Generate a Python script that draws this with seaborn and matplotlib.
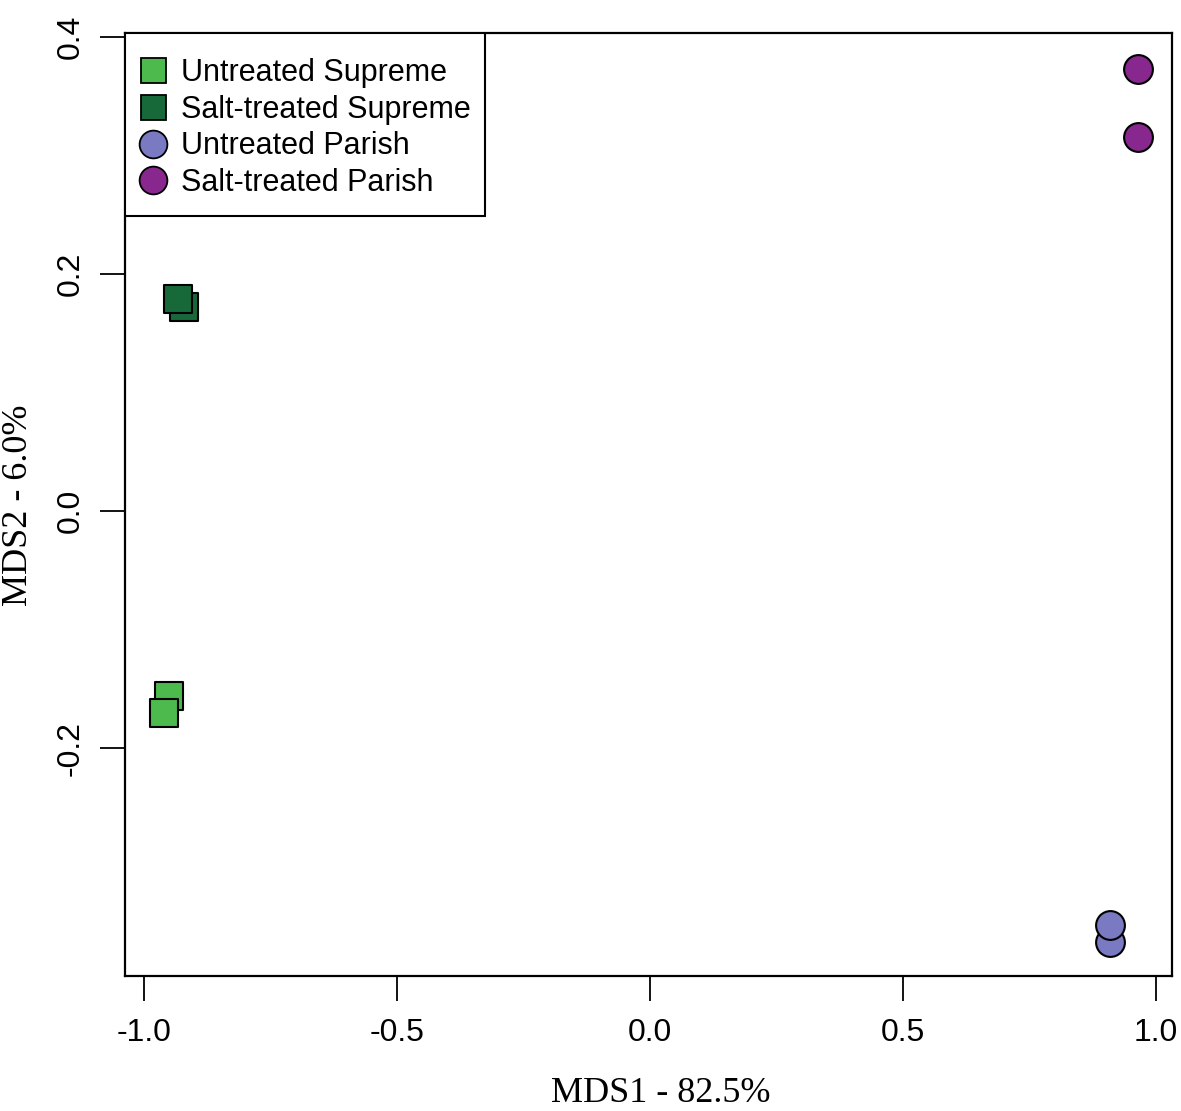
import pandas as pd
import seaborn as sns
import matplotlib.pyplot as plt
from matplotlib.lines import Line2D
from matplotlib.patches import Rectangle

# Coordonnées MDS
groups = ["Untreated Supreme", "Salt-treated Supreme", "Untreated Parish", "Salt-treated Parish"]
mds1_untreated_supreme = [-0.951, -0.960]
mds2_untreated_supreme = [-0.156, -0.170]
mds1_salt_supreme = [-0.921, -0.933]
mds2_salt_supreme = [0.172, 0.179]
mds1_untreated_parish = [0.909, 0.909]
mds2_untreated_parish = [-0.363, -0.349]
mds1_salt_parish = [0.964, 0.964]
mds2_salt_parish = [0.373, 0.315]

x_ticks = [-1.0, -0.5, 0.0, 0.5, 1.0]
y_ticks = [-0.2, 0.0, 0.2, 0.4]

colors = {"Untreated Supreme": "#4dba4d", "Salt-treated Supreme": "#18693a",
          "Untreated Parish": "#7a7ac2", "Salt-treated Parish": "#88278e"}
markers = {"Untreated Supreme": "s", "Salt-treated Supreme": "s",
           "Untreated Parish": "o", "Salt-treated Parish": "o"}

df = pd.concat([
    pd.DataFrame({"MDS1": mds1_untreated_supreme, "MDS2": mds2_untreated_supreme, "group": groups[0]}),
    pd.DataFrame({"MDS1": mds1_salt_supreme, "MDS2": mds2_salt_supreme, "group": groups[1]}),
    pd.DataFrame({"MDS1": mds1_untreated_parish, "MDS2": mds2_untreated_parish, "group": groups[2]}),
    pd.DataFrame({"MDS1": mds1_salt_parish, "MDS2": mds2_salt_parish, "group": groups[3]}),
], ignore_index=True)

sns.set_style("ticks")
plt.rcParams['font.family'] = ['Liberation Sans', 'DejaVu Sans']
plt.rcParams['text.color'] = 'black'

W, H = 1181, 1111
fig = plt.figure(figsize=(W / 100, H / 100), dpi=100)
ax = fig.add_axes([125 / W, (H - 976) / H, 1047 / W, 943 / H])

# chaque groupe dessiné dans l'ordre pour garder les recouvrements
for g in groups:
    sub = df[df["group"] == g]
    sns.scatterplot(data=sub, x="MDS1", y="MDS2", color=colors[g], marker=markers[g],
                    s=380 if markers[g] == "s" else 430, edgecolor="black", linewidth=1.5,
                    legend=False, ax=ax, zorder=3)

ax.set_xlim(-1.0375, 1.0316)
ax.set_ylim(-0.392, 0.403)
ax.set_xticks(x_ticks)
ax.set_yticks(y_ticks)
ax.set_xticklabels([f"{v:.1f}" for v in x_ticks])
ax.set_yticklabels([f"{v:.1f}" for v in y_ticks], rotation=90, va="center")
ax.tick_params(axis="both", length=18, width=1.3, color="black", labelcolor="black", labelsize=23)
ax.tick_params(axis="x", pad=12)
ax.tick_params(axis="y", pad=10)
for sp in ax.spines.values():
    sp.set_linewidth(1.6)
    sp.set_color("black")

ax.set_xlabel("")
ax.set_ylabel("")
fig.text(661 / W, 1 - 1094 / H, "MDS1 - 82.5%", family=["Liberation Serif"], fontsize=26,
         ha="center", va="center")
fig.text(19 / W, 1 - 505 / H, "MDS2 - 6.0%", family=["Liberation Serif"], fontsize=26,
         ha="center", va="center", rotation=90)

# cadre de la légende
def ax_xy(px, py):
    return (px - 125) / 1047, (976 - py) / 943

x0, y1 = ax_xy(125, 216)
x1, y0 = ax_xy(485, 33)
ax.add_patch(Rectangle((x0, y1), x1 - x0, y0 - y1, transform=ax.transAxes, fill=True,
                       facecolor="white", edgecolor="black", linewidth=1.5, zorder=4))

handles = [Line2D([], [], linestyle="none", marker=markers[g], markerfacecolor=colors[g],
                  markeredgecolor="black", markeredgewidth=1.3,
                  markersize=18 if markers[g] == "s" else 20) for g in groups]
leg = ax.legend(handles, groups, loc="upper left", bbox_to_anchor=ax_xy(139, 58), borderaxespad=0,
                fontsize=22, frameon=False, handlelength=0.9, handletextpad=0.47,
                labelspacing=0.22, borderpad=0)
leg.set_zorder(5)

fig.savefig("out.png", dpi=100)
